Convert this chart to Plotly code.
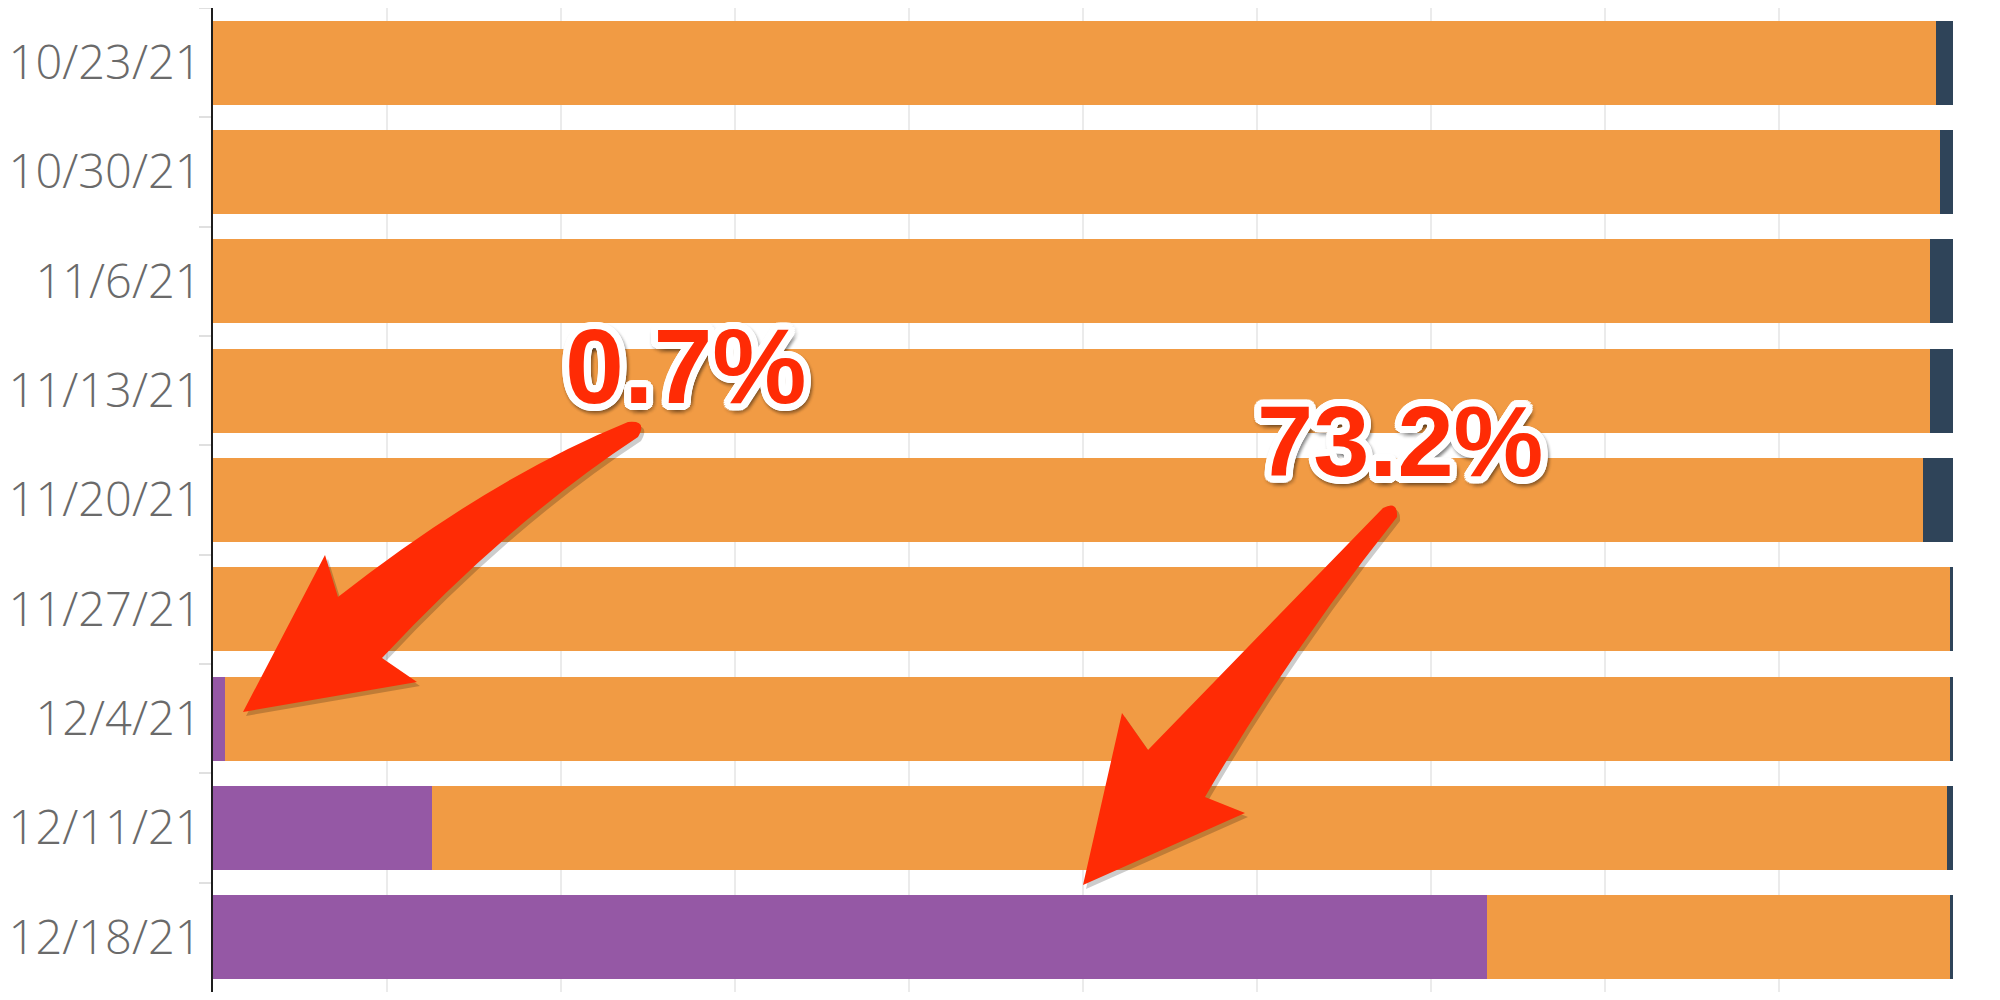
import math

import plotly.graph_objects as go

weeks = [
    "10/23/21", "10/30/21", "11/6/21", "11/13/21", "11/20/21",
    "11/27/21", "12/4/21", "12/11/21", "12/18/21",
]
# share of sequenced cases, percent
omicron = [0, 0, 0, 0, 0, 0, 0.7, 12.6, 73.2]
delta = [99.04, 99.25, 98.66, 98.66, 98.28, 99.85, 99.15, 87.05, 26.65]
other = [0.96, 0.75, 1.34, 1.34, 1.72, 0.15, 0.15, 0.35, 0.15]

callouts = ["0.7%", "73.2%"]

PURPLE = "#9558a5"
ORANGE = "#f19b44"
NAVY = "#2f4459"
RED = "#ff2b05"

# the page body adds an 8px margin; plot box below is in page pixels
OFF = 8
L, T, W, H = 213, 8, 1740, 984


def pp(x, y):
    return (x - L) / W, 1 - (y - T) / H


def path(cmds):
    out = []
    for c in cmds:
        if isinstance(c, str):
            out.append(c)
        else:
            px, py = pp(*c)
            out.append(f"{px:.5f},{py:.5f}")
    return " ".join(out)


def shifted(cmds, dx, dy):
    return [c if isinstance(c, str) else (c[0] + dx, c[1] + dy) for c in cmds]


arrow_small = [
    "M", (628, 422), "Q", (490, 478), (338, 597),
    "L", (325, 555), "L", (243, 712), "L", (417, 682), "L", (382, 658),
    "Q", (510, 521), (638, 437), "Q", (648, 420), (628, 422), "Z",
]
arrow_big = [
    "M", (1383, 508), "L", (1148, 750),
    "L", (1122, 713), "L", (1083, 885), "L", (1245, 813), "L", (1205, 797),
    "Q", (1289, 653), (1397, 517), "Q", (1398, 500), (1383, 508), "Z",
]

fig = go.Figure()
fig.add_trace(go.Bar(y=weeks, x=omicron, orientation="h", marker_color=PURPLE, marker_line_width=0))
fig.add_trace(go.Bar(y=weeks, x=delta, orientation="h", marker_color=ORANGE, marker_line_width=0))
fig.add_trace(go.Bar(y=weeks, x=other, orientation="h", marker_color=NAVY, marker_line_width=0))

shapes = []
for arr in (arrow_small, arrow_big):
    shapes.append(dict(type="path", xref="paper", yref="paper", layer="above",
                       path=path(shifted(arr, 3, 4)), fillcolor="rgba(0,0,0,0.2)", line_width=0))
    shapes.append(dict(type="path", xref="paper", yref="paper", layer="above",
                       path=path(arr), fillcolor=RED, line_width=0))

# white outline + soft grey halo around the callout numbers
ring = [f"{7 * math.cos(a * math.pi / 12):.1f}px {7 * math.sin(a * math.pi / 12):.1f}px 0 #fff" for a in range(24)]
halo = [f"{1.5 + 8 * math.cos(a * math.pi / 6):.1f}px {2.5 + 8 * math.sin(a * math.pi / 6):.1f}px 3px rgba(0,0,0,0.16)" for a in range(12)]
shadow = ", ".join(ring + halo)

for text, size, (cx, cy) in zip(callouts, [106, 101], [(686, 366), (1400, 441)]):
    ax, ay = pp(cx, cy)
    fig.add_annotation(x=ax, y=ay, xref="paper", yref="paper", text=text,
                       showarrow=False, xanchor="center", yanchor="middle",
                       font=dict(family="Liberation Sans, Arial", size=size, color=RED,
                                 weight=700, shadow=shadow))

fig.update_layout(
    barmode="stack",
    bargap=0.23,
    width=2000,
    height=1000,
    margin=dict(l=L - OFF, r=2000 - (L + W - OFF), t=T - OFF, b=1000 - (T + H - OFF), pad=0),
    paper_bgcolor="white",
    plot_bgcolor="white",
    showlegend=False,
    hovermode=False,
    shapes=shapes,
)
fig.update_xaxes(range=[0, 100], dtick=10, showticklabels=False, showgrid=True,
                 gridcolor="#ebebeb", gridwidth=2, zeroline=False, fixedrange=True)
fig.update_yaxes(type="category", autorange="reversed", showline=True, linecolor="#1e1e1e",
                 linewidth=2, ticks="outside", tickson="boundaries", ticklen=12,
                 tickcolor="#e0e0e0", tickwidth=2, showgrid=False,
                 tickfont=dict(family="Open Sans", size=47, color="#6a6a6a", weight=300),
                 fixedrange=True)

fig.write_html("out.html")
